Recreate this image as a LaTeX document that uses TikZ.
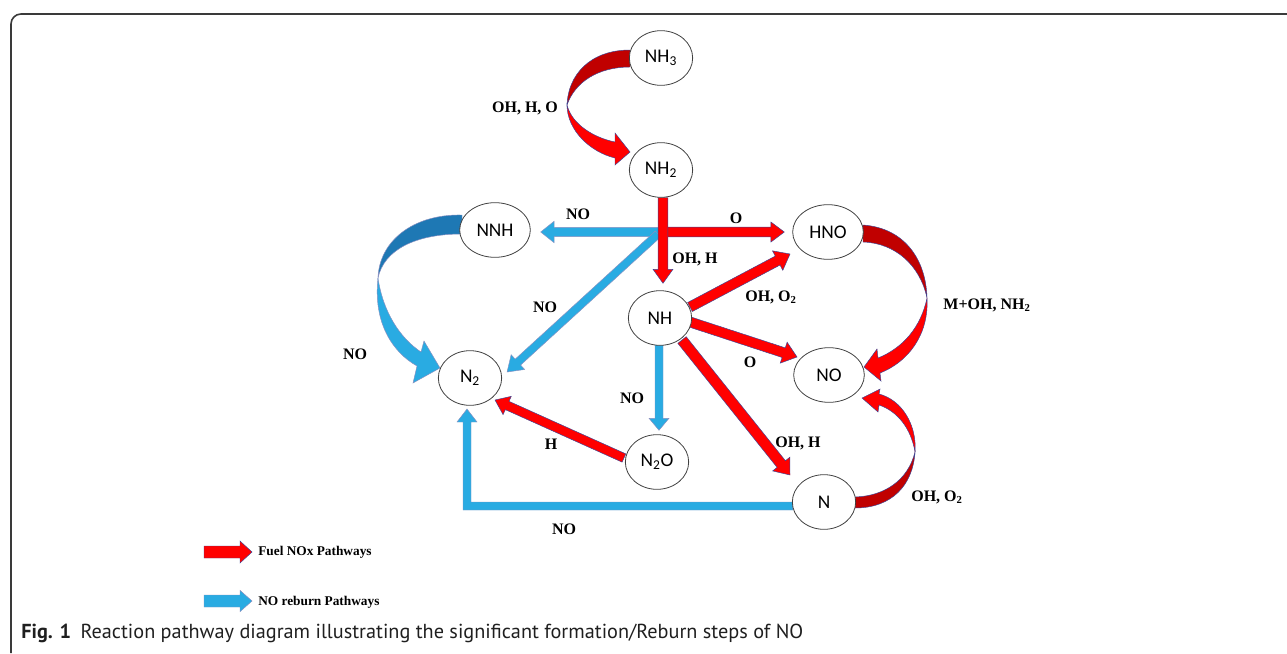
\documentclass[tikz,border=0pt]{standalone}
\usepackage{fontspec}
\setmainfont{Liberation Serif}
\newfontfamily\nodefont{Carlito}
\newfontfamily\capfont{PT Sans}
\usetikzlibrary{calc,shapes.geometric,backgrounds}
\definecolor{fred}{HTML}{FF0000}
\definecolor{dred}{HTML}{C00000}
\definecolor{lblue}{HTML}{29ABE2}
\definecolor{dblue}{HTML}{1E78B4}
\definecolor{edgec}{HTML}{3C4696}
\definecolor{framec}{HTML}{3A3A3A}
% #1 style, #2 start, #3 tip, #4 half shaft width, #5 half head width, #6 head length
\newcommand\fatarr[6]{%
  \path #2 coordinate (fas) #3 coordinate (fae);
  \path ($(fae)!#6!(fas)$) coordinate (fah);
  \filldraw[#1] ($(fas)!#4!90:(fae)$) -- ($(fah)!#4!90:(fae)$) -- ($(fah)!#5!90:(fae)$) -- (fae)
     -- ($(fah)!#5!-90:(fae)$) -- ($(fah)!#4!-90:(fae)$) -- ($(fas)!#4!-90:(fae)$) -- cycle;}
\tikzset{
  redarr/.style={fill=fred, draw=edgec, line width=0.35pt},
  bluearr/.style={fill=lblue, draw=edgec!60, line width=0.35pt},
  darkred/.style={fill=dred, draw=edgec, line width=0.35pt},
  darkblue/.style={fill=dblue, draw=edgec!60, line width=0.35pt},
  species/.style={ellipse, draw=black!75, line width=0.6pt, fill=white,
    minimum width=47.5pt, minimum height=41pt, inner sep=0pt,
    font=\nodefont\fontsize{14.5}{16}\selectfont},
  wide/.style={minimum width=53pt},
  lab/.style={font=\bfseries\fontsize{12}{14}\selectfont, inner sep=0pt},
  leg/.style={font=\bfseries\fontsize{10}{12}\selectfont, inner sep=0pt, anchor=west},
}
\begin{document}
\begin{tikzpicture}[x=0.75pt,y=-0.75pt]
\useasboundingbox (0,0) rectangle (1287,653);
% frame
\draw[framec, line width=1.2pt, rounded corners=7.5pt] (11,653) -- (11,14) -- (1287,14);

% species
\node[species] (nh3) at (661,58) {NH\textsubscript{3}};
\node[species] (nh2) at (661,170) {NH\textsubscript{2}};
\node[species,wide] (nnh) at (495,230) {NNH};
\node[species,wide] (hno) at (828,232) {HNO};
\node[species] (nh) at (660,318) {NH};
\node[species,wide] (no) at (829,375) {NO};
\node[species] (n2) at (470,378) {N\textsubscript{2}};
\node[species] (n2o) at (657,462) {N\textsubscript{2}O};
\node[species] (n) at (824,502) {N};
\coordinate (jn) at (663,232);

\begin{pgfonlayer}{background}
% curved NH3 -> NH2
\filldraw[darkred] (630,50) .. controls (590,50) and (568,75) .. (567,105)
   .. controls (575,82) and (598,67) .. (630,67) -- cycle;
\filldraw[redarr] (567,105) .. controls (567,130) and (590,152) .. (615,158)
   -- (615,165) -- (630,152) -- (615,133) -- (615,142)
   .. controls (595,138) and (572,125) .. (567,105) -- cycle;
% curved NNH -> N2
\filldraw[darkblue] (462,215) .. controls (412,214) and (379,242) .. (378,278)
   .. controls (384,250) and (415,234) .. (462,234) -- cycle;
\filldraw[bluearr] (378,278) .. controls (373,322) and (392,352) .. (417,366)
   -- (413,383) -- (440,368) -- (424,341) -- (421,352)
   .. controls (400,338) and (383,312) .. (378,278) -- cycle;
% curved HNO -> NO
\filldraw[darkred] (863,225) .. controls (905,228) and (926,260) .. (927,298)
   .. controls (920,265) and (895,243) .. (863,242) -- cycle;
\filldraw[redarr] (927,298) .. controls (929,335) and (908,362) .. (880,373)
   -- (881,381) -- (864,367) -- (877,349) -- (878,358)
   .. controls (903,348) and (921,327) .. (927,298) -- cycle;
% curved N -> NO
\filldraw[darkred] (855,508) .. controls (892,508) and (913,485) .. (915,452)
   .. controls (908,480) and (885,496) .. (855,497) -- cycle;
\filldraw[redarr] (915,452) .. controls (917,425) and (902,400) .. (879,394)
   -- (880,389) -- (862,398) -- (878,412) -- (879,405)
   .. controls (897,411) and (911,428) .. (915,452) -- cycle;

% N -> N2 elbow
\filldraw[bluearr] ($(n.west)+(1,0)$) -- (471,502) -- (471,422) -- (477,422) -- (467,409)
   -- (457,422) -- (463,422) -- (463,510) -- ($(n.west)+(1,8)$) -- cycle;

% straight arrows
\fatarr{bluearr}{($(jn)+(-3,0)$)}{($(nnh.east)+(10,2)$)}{3.4pt}{8pt}{10pt}
\fatarr{bluearr}{($(jn)+(-5,2)$)}{($(n2.east)+(5,-6)$)}{3pt}{7.5pt}{11pt}
\fatarr{redarr}{(jn)}{($(hno.west)+(-8,0)$)}{3.6pt}{7.5pt}{10pt}
\fatarr{redarr}{($(nh2.south)+(2,0)$)}{($(nh.north)+(3,-7)$)}{3.6pt}{7.5pt}{10.5pt}
\fatarr{redarr}{($(nh)+(30,-11)$)}{($(hno)+(-38,22)$)}{3.8pt}{8.25pt}{10.5pt}
\fatarr{redarr}{($(nh)+(30,4)$)}{($(no)+(-32,-18)$)}{3.8pt}{8.25pt}{10.5pt}
\fatarr{redarr}{($(nh)+(22,22)$)}{($(n)+(-34,-27)$)}{4pt}{8.25pt}{10.5pt}
\fatarr{bluearr}{($(nh.south)+(-1,-1)$)}{($(n2o.north)+(2,-4)$)}{3pt}{7.5pt}{9pt}
\fatarr{redarr}{($(n2o.west)+(-1,-4)$)}{($(n2)+(25,22)$)}{3.4pt}{7.5pt}{10pt}

% legend arrows
\coordinate (lr1) at (204,552); \coordinate (lr2) at (252,552);
\coordinate (lb1) at (204,601); \coordinate (lb2) at (252,601);
\fatarr{redarr}{(lr1)}{(lr2)}{4.5pt}{8.25pt}{9pt}
\fatarr{bluearr}{(lb1)}{(lb2)}{4.5pt}{8pt}{9pt}
\end{pgfonlayer}

% reaction labels
\node[lab] (l1) at (525,108) {OH, H, O};
\node[lab] (l2) at (578,214) {NO};
\node[lab] (l3) at (736,218) {O};
\node[lab] (l4) at (695,259) {OH, H};
\node[lab] (l5) at (545,307) {NO};
\node[lab] (l6) at (771,297) {OH, O\textsubscript{2}};
\node[lab] (l7) at (750,362) {O};
\node[lab] (l8) at (987,305) {M+OH, NH\textsubscript{2}};
\node[lab] (l9) at (355,354) {NO};
\node[lab] (l10) at (632,398) {NO};
\node[lab] (l11) at (798,443) {OH, H};
\node[lab] (l12) at (551,444) {H};
\node[lab] (l13) at (564,529) {NO};
\node[lab] (l14) at (937,497) {OH, O\textsubscript{2}};

% legend text
\node[leg] (t1) at (258,552) {Fuel NOx Pathways};
\node[leg] (t2) at (258,602) {NO reburn Pathways};

% caption
\node[anchor=west, inner sep=0pt, text=black!88, font=\capfont\fontsize{15.2}{18}\selectfont] (cap) at (21,633)
  {\textbf{Fig. 1}\hspace{7pt}Reaction pathway diagram illustrating the significant formation/Reburn steps of NO};
\end{tikzpicture}
\end{document}
